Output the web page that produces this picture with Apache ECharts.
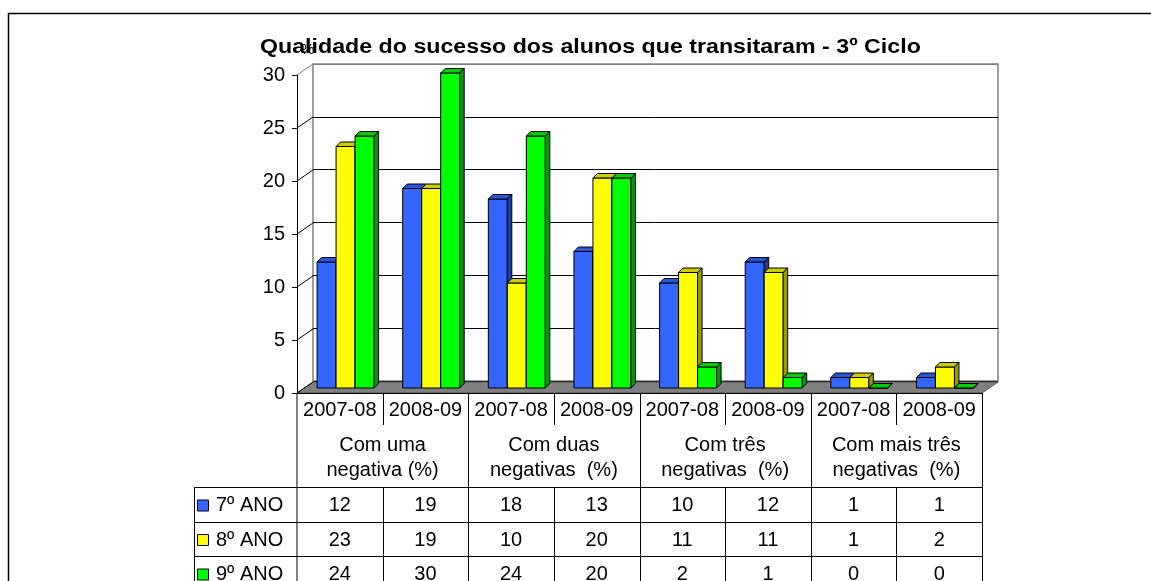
<!DOCTYPE html>
<html>
<head>
<meta charset="utf-8">
<script src="https://cdn.jsdelivr.net/npm/echarts@6/dist/echarts.min.js"></script>
<style>
  html, body { margin: 0; padding: 0; background: #fff; }
  #chart { width: 1151px; height: 581px; }
</style>
</head>
<body>
<div id="chart"></div>
<script>
// chart data
const years = ['2007-08', '2008-09', '2007-08', '2008-09', '2007-08', '2008-09', '2007-08', '2008-09'];
const groups = ['Com uma\nnegativa (%)', 'Com duas\nnegativas  (%)', 'Com três\nnegativas  (%)', 'Com mais três\nnegativas  (%)'];
const ano7 = [12, 19, 18, 13, 10, 12, 1, 1];
const ano8 = [23, 19, 10, 20, 11, 11, 1, 2];
const ano9 = [24, 30, 24, 20, 2, 1, 0, 0];
const seriesNames = ['7º ANO', '8º ANO', '9º ANO'];
const yMin = 0, yMax = 30, yStep = 5;
const titleText = 'Qualidade do sucesso dos alunos que transitaram - 3º Ciclo';

const FONT = '"Liberation Sans", Arial, sans-serif';
const faces = [
    { front: '#3366ff', top: '#2a55d6', side: '#1f3d99' },
    { front: '#ffff00', top: '#cccc00', side: '#999900' },
    { front: '#00ff00', top: '#00cc00', side: '#009900' }
];

// layout of the fake 3D box and the data table
const frontL = 297, plotW = 685, frontTop = 75, frontBot = 393;
const depthX = 16, depthY = 11;
const colW = plotW / 8;
const tableRows = [487, 522, 556, 591];
const legendL = 194;

const chart = echarts.init(document.getElementById('chart'));

// 3D looking bar drawn from api.coord
function bar3d(idx) {
    return function (params, api) {
        const i = api.value(0);
        const base = api.coord([i, 0]);
        const top = api.coord([i, api.value(1)]);
        const bw = 19, dx = 4.5, dy = -4.5;
        const x0 = base[0] - (3 * bw + dx) / 2 + idx * bw;
        const c = faces[idx];
        const stroke = { stroke: '#000', lineWidth: 1 };
        return {
            type: 'group',
            children: [
                { type: 'rect', shape: { x: x0, y: top[1], width: bw, height: base[1] - top[1] },
                  style: Object.assign({ fill: c.front }, stroke) },
                { type: 'polygon', shape: { points: [[x0, top[1]], [x0 + dx, top[1] + dy], [x0 + bw + dx, top[1] + dy], [x0 + bw, top[1]]] },
                  style: Object.assign({ fill: c.top }, stroke) },
                { type: 'polygon', shape: { points: [[x0 + bw, top[1]], [x0 + bw + dx, top[1] + dy], [x0 + bw + dx, base[1] + dy], [x0 + bw, base[1]]] },
                  style: Object.assign({ fill: c.side }, stroke) }
            ]
        };
    };
}

const graphics = [];

// outer frame
graphics.push({ type: 'rect', z: 10, shape: { x: 8.5, y: 13.5, width: 1300, height: 800 },
    style: { fill: null, stroke: '#000', lineWidth: 1.5 } });

// title (the original is a little stretched sideways)
graphics.push({ type: 'text', z: 5, x: 260, y: 47, scaleX: 1.16,
    style: { text: titleText, font: 'bold 20px ' + FONT, fill: '#000', textVerticalAlign: 'middle' } });

// floor
graphics.push({ type: 'polygon', z: 1,
    shape: { points: [[frontL, frontBot], [frontL + plotW, frontBot], [frontL + plotW + depthX, frontBot - depthY], [frontL + depthX, frontBot - depthY]] },
    style: { fill: '#808080', stroke: '#555', lineWidth: 1 } });

// side wall diagonals
for (let v = yMin; v <= yMax; v += yStep) {
    const yf = frontBot - (v - yMin) / (yMax - yMin) * (frontBot - frontTop);
    graphics.push({ type: 'line', z: 1,
        shape: { x1: frontL, y1: yf, x2: frontL + depthX, y2: yf - depthY },
        style: { stroke: v === yMax ? '#808080' : '#000', lineWidth: 1 } });
}

// "%" unit label
graphics.push({ type: 'text', z: 6, x: 301, y: 50,
    style: { text: '%', font: '15px ' + FONT, fill: '#000', textVerticalAlign: 'middle' } });

// table lines
const tLine = (x1, y1, x2, y2) => graphics.push({ type: 'line', z: 5,
    shape: { x1: x1, y1: y1, x2: x2, y2: y2 }, style: { stroke: '#000', lineWidth: 1 } });
const bottom = 600;
tLine(frontL, frontBot, frontL, bottom);
for (let k = 1; k <= 8; k++) {
    const x = Math.round(frontL + k * colW) + 0.5;
    if (k % 2 === 0) {
        tLine(x, frontBot, x, bottom);
    } else {
        tLine(x, frontBot, x, 425);
        tLine(x, tableRows[0], x, bottom);
    }
}
tableRows.forEach(y => tLine(legendL, y + 0.5, frontL + plotW, y + 0.5));
tLine(legendL + 0.5, tableRows[0], legendL + 0.5, bottom);

// group labels
groups.forEach((g, k) => {
    graphics.push({ type: 'text', z: 5, x: frontL + (2 * k + 1) * colW, y: 458,
        style: { text: g, font: '20px ' + FONT, fill: '#000', textAlign: 'center', textVerticalAlign: 'middle', lineHeight: 25 } });
});

// table rows: legend key, name and values
[ano7, ano8, ano9].forEach((arr, r) => {
    const cy = (tableRows[r] + tableRows[r + 1]) / 2 + 1;
    graphics.push({ type: 'rect', z: 5, shape: { x: 197.5, y: cy - 5.5, width: 11, height: 11 },
        style: { fill: faces[r].front, stroke: '#000', lineWidth: 1 } });
    graphics.push({ type: 'text', z: 5, x: 216, y: cy,
        style: { text: seriesNames[r], font: '20px ' + FONT, fill: '#000', textVerticalAlign: 'middle' } });
    arr.forEach((v, i) => {
        graphics.push({ type: 'text', z: 5, x: frontL + (i + 0.5) * colW, y: cy,
            style: { text: String(v), font: '20px ' + FONT, fill: '#000', textAlign: 'center', textVerticalAlign: 'middle' } });
    });
});

const gridColors = [];
for (let v = yMin; v <= yMax; v += yStep) gridColors.push(v === yMax ? '#808080' : '#000');

chart.setOption({
    animation: false,
    backgroundColor: '#fff',
    grid: [
        // back wall
        { left: frontL + depthX, top: frontTop - depthY, width: plotW, height: frontBot - frontTop - 1,
          show: true, backgroundColor: '#fff', borderColor: '#808080', borderWidth: 1.5 },
        // bars (half depth)
        { left: frontL + 8, top: 73, width: plotW, height: 315 },
        // front axes
        { left: frontL, top: frontTop, width: plotW, height: frontBot - frontTop }
    ],
    xAxis: [
        { type: 'category', gridIndex: 0, data: years, show: false },
        { type: 'category', gridIndex: 1, data: years, show: false },
        { type: 'category', gridIndex: 2, data: years,
          axisLine: { lineStyle: { color: '#000', width: 1 } }, axisTick: { show: false },
          axisLabel: { interval: 0, hideOverlap: false, color: '#000', fontFamily: FONT, fontSize: 20, margin: 7 }, z: 6 }
    ],
    yAxis: [
        { type: 'value', gridIndex: 0, min: yMin, max: yMax, interval: yStep,
          axisLine: { show: false }, axisTick: { show: false }, axisLabel: { show: false },
          splitLine: { lineStyle: { color: gridColors, width: 1 } } },
        { type: 'value', gridIndex: 1, min: yMin, max: yMax, show: false, splitLine: { show: false } },
        { type: 'value', gridIndex: 2, min: yMin, max: yMax, interval: yStep,
          axisLine: { show: true, lineStyle: { color: '#000', width: 1 } },
          axisTick: { show: true, length: 5, lineStyle: { color: '#000' } },
          axisLabel: { color: '#000', fontFamily: FONT, fontSize: 20, margin: 12 },
          splitLine: { show: false } }
    ],
    series: [ano7, ano8, ano9].map((arr, idx) => ({
        name: seriesNames[idx],
        type: 'custom',
        xAxisIndex: 1,
        yAxisIndex: 1,
        z: 3,
        renderItem: bar3d(idx),
        data: arr.map((v, i) => [i, v])
    })),
    graphic: { elements: graphics }
});
</script>
</body>
</html>
